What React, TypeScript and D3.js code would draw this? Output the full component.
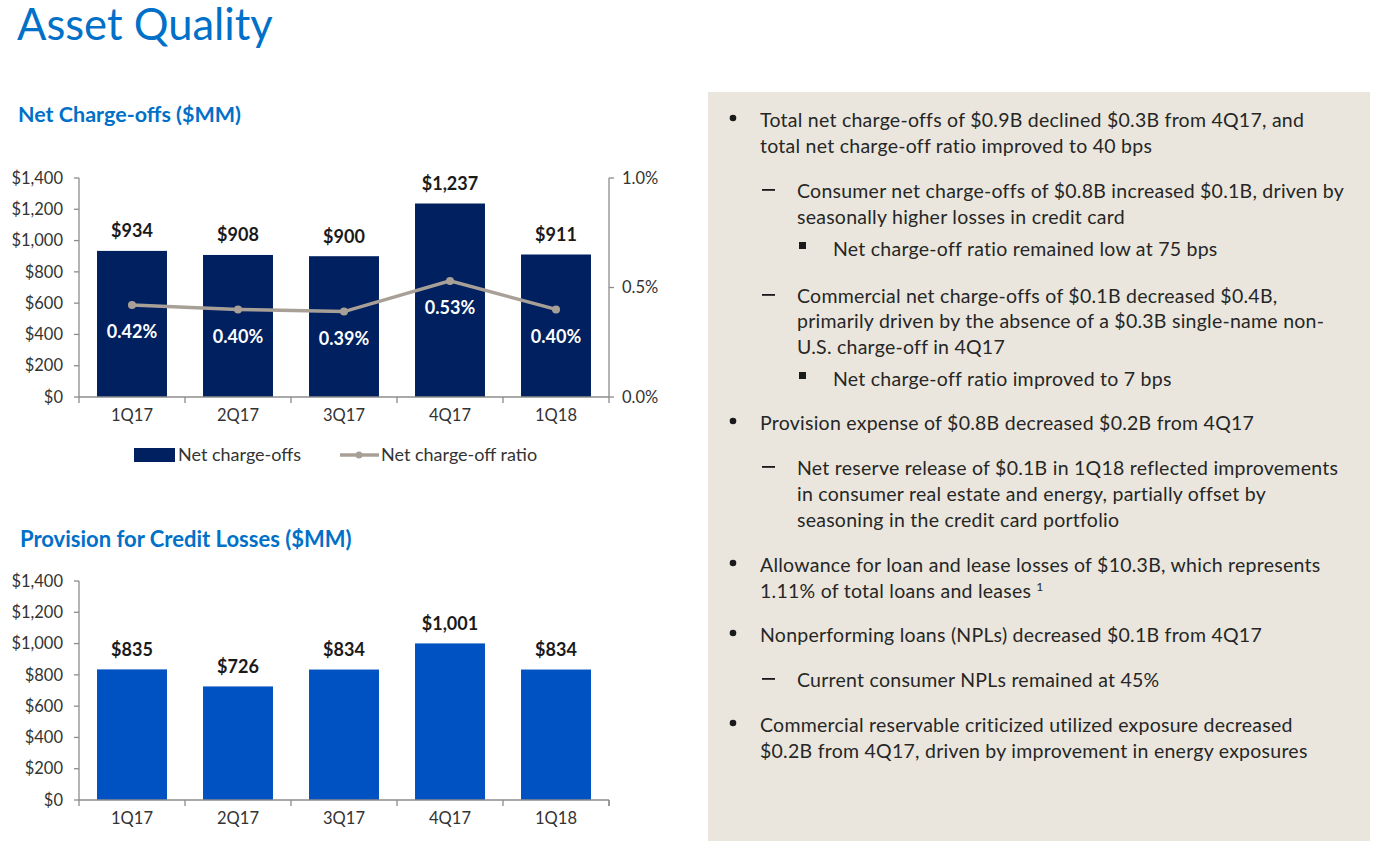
import React from "react";
import * as d3 from "d3";

const quarters = ["1Q17", "2Q17", "3Q17", "4Q17", "1Q18"];
const netChargeOffs = [934, 908, 900, 1237, 911];
const ncoRatio = [0.42, 0.40, 0.39, 0.53, 0.40];
const provision = [835, 726, 834, 1001, 834];
const leftTicks = [0, 200, 400, 600, 800, 1000, 1200, 1400];
const rightTicks = [0, 0.5, 1.0];

type Line = { kind: string; text: string; y: number; sup?: string };
const bulletLines: Line[] = [
  { kind: "bullet", text: "Total net charge-offs of $0.9B declined $0.3B from 4Q17, and", y: 120 },
  { kind: "text", text: "total net charge-off ratio improved to 40 bps", y: 146 },
  { kind: "dash", text: "Consumer net charge-offs of $0.8B increased $0.1B, driven by", y: 191 },
  { kind: "text2", text: "seasonally higher losses in credit card", y: 217 },
  { kind: "square", text: "Net charge-off ratio remained low at 75 bps", y: 249 },
  { kind: "dash", text: "Commercial net charge-offs of $0.1B decreased $0.4B,", y: 296 },
  { kind: "text2", text: "primarily driven by the absence of a $0.3B single-name non-", y: 321 },
  { kind: "text2", text: "U.S. charge-off in 4Q17", y: 347 },
  { kind: "square", text: "Net charge-off ratio improved to 7 bps", y: 379 },
  { kind: "bullet", text: "Provision expense of $0.8B decreased $0.2B from 4Q17", y: 423 },
  { kind: "dash", text: "Net reserve release of $0.1B in 1Q18 reflected improvements", y: 468 },
  { kind: "text2", text: "in consumer real estate and energy, partially offset by", y: 494 },
  { kind: "text2", text: "seasoning in the credit card portfolio", y: 520 },
  { kind: "bullet", text: "Allowance for loan and lease losses of $10.3B, which represents", y: 565 },
  { kind: "text", text: "1.11% of total loans and leases", y: 591, sup: "1" },
  { kind: "bullet", text: "Nonperforming loans (NPLs) decreased $0.1B from 4Q17", y: 635 },
  { kind: "dash", text: "Current consumer NPLs remained at 45%", y: 680 },
  { kind: "bullet", text: "Commercial reservable criticized utilized exposure decreased", y: 725 },
  { kind: "text", text: "$0.2B from 4Q17, driven by improvement in energy exposures", y: 751 },
];

const FONT = "Lato, 'Open Sans', sans-serif";
const NAVY = "#002060";
const BLUE = "#0052C2";
const LINEC = "#A8A097";
const AXIS = "#8C8C8C";
const TITLE = "#0070C9";
const TXT = "#262626";
const TICK_FS = 16.5;
const LABEL_FS = 18;

function BarChart({
  values, top, bottom, color, ratio,
}: { values: number[]; top: number; bottom: number; color: string; ratio?: number[] }) {
  const left = 79, right = 609;
  const x = d3.scaleBand<string>().domain(quarters).range([left, right]).paddingInner(0.34).paddingOuter(0.17);
  const y = d3.scaleLinear().domain([0, 1400]).range([bottom, top]);
  const yr = d3.scaleLinear().domain([0, 1.0]).range([bottom, top]);
  const step = x.step();
  const cx = (i: number) => (x(quarters[i]) as number) + x.bandwidth() / 2;
  const lineGen = d3.line<number>().x((_, i) => cx(i)).y((d) => yr(d));
  return (
    <g fontFamily={FONT}>
      {values.map((v, i) => (
        <rect key={i} x={x(quarters[i])} y={y(v)} width={x.bandwidth()} height={bottom - y(v)} fill={color} />
      ))}
      <line x1={left} x2={left} y1={top} y2={bottom} stroke={AXIS} strokeWidth={1.3} />
      {leftTicks.map((t) => (
        <g key={t}>
          <line x1={left - 5} x2={left} y1={y(t)} y2={y(t)} stroke={AXIS} strokeWidth={1.3} />
          <text x={left - 16} y={y(t)} dy="0.35em" textAnchor="end" fontSize={TICK_FS} fill="#333">
            {d3.format("$,")(t)}
          </text>
        </g>
      ))}
      <line x1={left} x2={right} y1={bottom} y2={bottom} stroke={AXIS} strokeWidth={1.3} />
      {d3.range(6).map((i) => (
        <line key={i} x1={left + i * step} x2={left + i * step} y1={bottom} y2={bottom + 6} stroke={AXIS} strokeWidth={1.3} />
      ))}
      {quarters.map((q, i) => (
        <text key={q} x={cx(i)} y={bottom + 24} textAnchor="middle" fontSize={TICK_FS} fill="#333">
          {q}
        </text>
      ))}
      {ratio && (
        <g>
          <line x1={right} x2={right} y1={top} y2={bottom} stroke={AXIS} strokeWidth={1.3} />
          {rightTicks.map((t) => (
            <g key={t}>
              <line x1={right} x2={right + 5} y1={yr(t)} y2={yr(t)} stroke={AXIS} strokeWidth={1.3} />
              <text x={right + 13} y={yr(t)} dy="0.35em" fontSize={TICK_FS} fill="#333">
                {d3.format(".1f")(t) + "%"}
              </text>
            </g>
          ))}
          <path d={lineGen(ratio) as string} fill="none" stroke={LINEC} strokeWidth={3.5} />
          {ratio.map((r, i) => (
            <g key={i}>
              <circle cx={cx(i)} cy={yr(r)} r={4} fill={LINEC} />
              <text x={cx(i)} y={yr(r) + 27} dy="0.35em" textAnchor="middle" fontSize={LABEL_FS} fontWeight={700} fill="#fff">
                {d3.format(".2f")(r) + "%"}
              </text>
            </g>
          ))}
        </g>
      )}
      {!ratio && (
        <line x1={right} x2={right} y1={bottom} y2={bottom + 6} stroke={AXIS} strokeWidth={1.3} />
      )}
      {values.map((v, i) => (
        <text key={i} x={cx(i)} y={y(v) - 20} dy="0.35em" textAnchor="middle" fontSize={LABEL_FS} fontWeight={700} fill="#1a1a1a">
          {d3.format("$,")(v)}
        </text>
      ))}
    </g>
  );
}

export default function App() {
  return (
    <svg width={1374} height={845} style={{ position: "absolute", left: 0, top: 0 }}>
      <rect width={1374} height={845} fill="#fff" />
      <text x={17} y={40} fontFamily={FONT} fontSize={43.5} fill={TITLE}>Asset Quality</text>
      <text x={18} y={122} fontFamily={FONT} fontSize={21.5} fontWeight={700} fill={TITLE}>Net Charge-offs ($MM)</text>
      <text x={20} y={547} fontFamily={FONT} fontSize={22} fontWeight={700} fill={TITLE}>Provision for Credit Losses ($MM)</text>

      <BarChart values={netChargeOffs} top={178} bottom={397} color={NAVY} ratio={ncoRatio} />
      <BarChart values={provision} top={581} bottom={800} color={BLUE} />

      <g fontFamily={FONT} fontSize={18} fill="#333">
        <rect x={134} y={448} width={41} height={14} fill={NAVY} />
        <text x={178} y={455} dy="0.35em">Net charge-offs</text>
        <line x1={340} x2={379} y1={455} y2={455} stroke={LINEC} strokeWidth={3.5} />
        <circle cx={359} cy={455} r={3.5} fill={LINEC} />
        <text x={381} y={455} dy="0.35em">Net charge-off ratio</text>
      </g>

      <rect x={708} y={92} width={662} height={749} fill="#EAE6DD" />
      <g fontFamily={FONT} fontSize={19.5} letterSpacing={0.25} fill={TXT}>
        {bulletLines.map((l, i) => {
          const k = l.kind;
          const tx = k === "bullet" || k === "text" ? 760 : k === "dash" || k === "text2" ? 797 : 833;
          return (
            <g key={i}>
              {k === "bullet" && <circle cx={733} cy={l.y - 2} r={3.3} fill="#1a1a1a" />}
              {k === "dash" && <rect x={762} y={l.y - 2} width={13} height={1.8} fill="#1a1a1a" />}
              {k === "square" && <rect x={799} y={l.y - 7} width={7} height={7} fill="#1a1a1a" />}
              <text x={tx} y={l.y} dy="0.35em">
                {l.text}
                {l.sup && (
                  <tspan dx={5} dy={-7} fontSize={12}>{l.sup}</tspan>
                )}
              </text>
            </g>
          );
        })}
      </g>
    </svg>
  );
}
